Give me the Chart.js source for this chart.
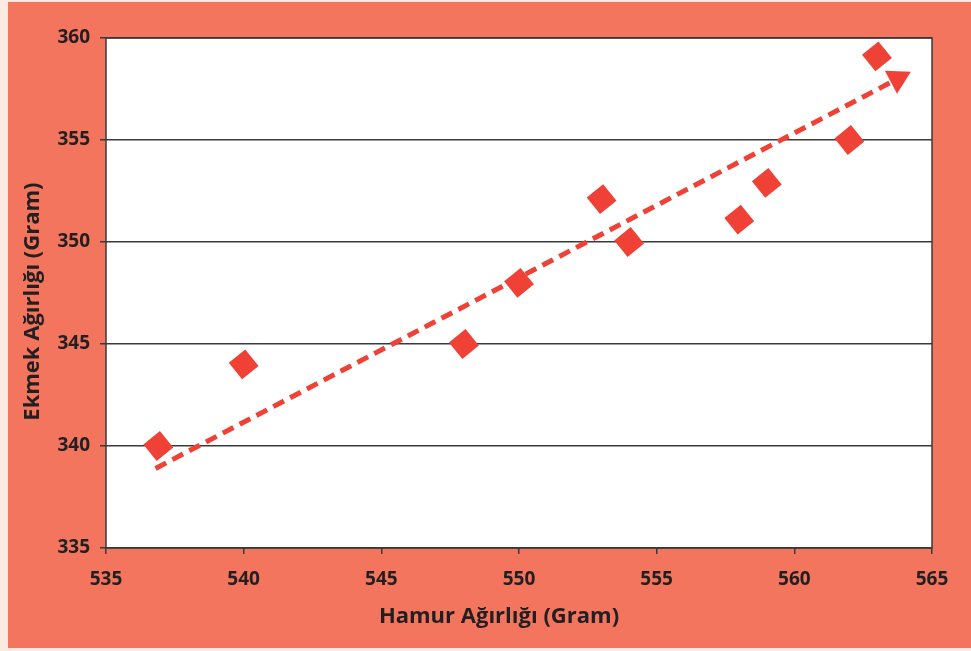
<!DOCTYPE html>
<html>
<head>
<meta charset="utf-8">
<script src="https://cdn.jsdelivr.net/npm/chart.js@4"></script>
<style>
  html, body { margin: 0; padding: 0; background: #FDE9E1; }
  #frame { position: absolute; left: 8px; top: 2px; width: 963px; height: 646px; background: #F3755E; }
  #chart { position: absolute; left: 0; top: 0; }
</style>
</head>
<body>
<div id="frame"></div>
<canvas id="chart" width="971" height="651"></canvas>
<script>
// ─── DATA ─────────────────────────────────────────────────────────────────────

const hamur  = [536.9, 540, 548, 550, 553, 554, 558, 559, 562, 563];
const ekmek  = [340, 344, 345, 348, 352.1, 350, 351.1, 352.9, 355, 359.1];

// hand-drawn trend arrow, start and end
const trendX = [536.8, 563.75];
const trendY = [338.9, 358.0];

const xTicks = [535, 540, 545, 550, 555, 560, 565];
const yTicks = [335, 340, 345, 350, 355, 360];

// trailing spaces nudge the centred titles the way the original sits
const xTitle = 'Hamur Ağırlığı (Gram)       ';
const yTitle = 'Ekmek Ağırlığı (Gram)   ';

// ─── STYLE ────────────────────────────────────────────────────────────────────

const RED  = '#EF4136';
const INK  = '#231F20';
const LINE = '#3a3a3a';
const TICK_FONT  = { family: '"Open Sans", sans-serif', weight: 'bold', size: 19 };
const TITLE_FONT = { family: '"Open Sans", sans-serif', weight: 'bold', size: 22 };

const plotFrame = {
  id: 'plotFrame',
  beforeDraw(chart) {
    const { ctx, chartArea: a } = chart;
    ctx.save();
    ctx.fillStyle = '#fff';
    ctx.fillRect(a.left, a.top, a.right - a.left, a.bottom - a.top);
    ctx.restore();
  },
  beforeDatasetsDraw(chart) {
    const { ctx, chartArea: a } = chart;
    ctx.save();
    ctx.strokeStyle = LINE;
    ctx.lineWidth = 1.5;
    ctx.strokeRect(a.left, a.top, a.right - a.left, a.bottom - a.top);
    ctx.restore();
  }
};

new Chart(document.getElementById('chart'), {
  type: 'scatter',
  data: {
    datasets: [
      {
        label: 'trend',
        data: trendX.map((x, i) => ({ x, y: trendY[i] })),
        showLine: true,
        borderColor: RED,
        borderWidth: 5,
        borderDash: [12, 7],
        borderCapStyle: 'butt',
        pointRadius: [0, 15],
        pointStyle: ['circle', 'triangle'],
        pointRotation: [0, 62],
        pointBackgroundColor: RED,
        pointBorderWidth: 0,
      },
      {
        label: 'veri',
        data: hamur.map((x, i) => ({ x, y: ekmek[i] })),
        pointStyle: 'rectRot',
        pointRotation: 6,
        pointRadius: 15,
        pointBackgroundColor: RED,
        pointBorderWidth: 0,
      }
    ]
  },
  options: {
    responsive: false,
    animation: false,
    events: [],
    layout: { padding: { top: 38, right: 39, left: 0, bottom: 0 } },
    plugins: { legend: { display: false }, tooltip: { enabled: false } },
    scales: {
      x: {
        type: 'linear',
        min: xTicks[0],
        max: xTicks[xTicks.length - 1],
        afterBuildTicks: s => { s.ticks = xTicks.map(v => ({ value: v })); },
        afterFit: s => { s.height = 103; },
        grid: { drawOnChartArea: false, drawTicks: true, tickLength: 6, color: LINE, lineWidth: 1.5 },
        border: { display: false },
        ticks: { color: INK, font: TICK_FONT, padding: 14, maxRotation: 0 },
        title: { display: true, text: xTitle, color: INK, font: TITLE_FONT, padding: { top: 0, bottom: 21 } }
      },
      y: {
        type: 'linear',
        min: yTicks[0],
        max: yTicks[yTicks.length - 1],
        afterBuildTicks: s => { s.ticks = yTicks.map(v => ({ value: v })); },
        afterFit: s => { s.width = 106; },
        grid: { drawOnChartArea: true, drawTicks: true, tickLength: 6, color: LINE, lineWidth: 1.5 },
        border: { display: false },
        ticks: { color: INK, font: TICK_FONT, padding: 10 },
        title: { display: true, text: yTitle, color: INK, font: TITLE_FONT, padding: { top: 20, bottom: 0 } }
      }
    }
  },
  plugins: [plotFrame]
});
</script>
</body>
</html>
